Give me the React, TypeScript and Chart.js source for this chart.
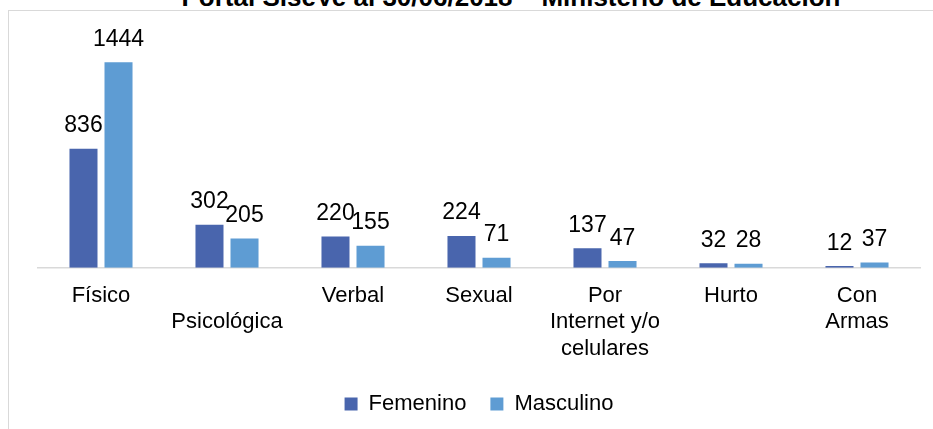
import React, { useEffect, useRef } from "react";
import { Chart, registerables } from "chart.js";

Chart.register(...registerables);

const TITLE = "Portal SíseVe al 30/06/2018 – Ministerio de Educación";
const categories: string[][] = [
  ["Físico"],
  ["", "Psicológica"],
  ["Verbal"],
  ["Sexual"],
  ["Por", "Internet y/o", "celulares"],
  ["Hurto"],
  ["Con", "Armas"],
];
const seriesNames = ["Femenino", "Masculino"];
const femenino = [836, 302, 220, 224, 137, 32, 12];
const masculino = [1444, 205, 155, 71, 47, 28, 37];
const yMax = 1600;

const FONT = '"Liberation Sans", Arial, sans-serif';

const valueLabels = {
  id: "valueLabels",
  afterDatasetsDraw(chart: any) {
    const ctx = chart.ctx;
    ctx.save();
    ctx.font = `23px ${FONT}`;
    ctx.fillStyle = "#000";
    ctx.textAlign = "center";
    ctx.textBaseline = "alphabetic";
    chart.data.datasets.forEach((ds: any, i: number) => {
      const meta = chart.getDatasetMeta(i);
      meta.data.forEach((bar: any, j: number) => {
        ctx.fillText(String(ds.data[j]), bar.x, bar.y - 16.5);
      });
    });
    ctx.restore();
  },
};

export default function App() {
  const ref = useRef<HTMLCanvasElement>(null);
  useEffect(() => {
    if (!ref.current) return;
    const chart = new Chart(ref.current, {
      type: "bar",
      data: {
        labels: categories,
        datasets: [
          {
            label: seriesNames[0],
            data: femenino,
            backgroundColor: "#4965ad",
            categoryPercentage: 0.556,
            barPercentage: 0.8,
          },
          {
            label: seriesNames[1],
            data: masculino,
            backgroundColor: "#5e9cd3",
            categoryPercentage: 0.556,
            barPercentage: 0.8,
          },
        ],
      },
      options: {
        responsive: false,
        animation: false,
        layout: { padding: { left: 29, right: 13, top: 29, bottom: 14 } },
        plugins: {
          title: { display: false },
          tooltip: { enabled: false },
          legend: {
            position: "bottom",
            labels: {
              boxWidth: 13,
              boxHeight: 13,
              padding: 24,
              color: "#000",
              font: { family: FONT, size: 22 },
            },
          },
        },
        scales: {
          x: {
            grid: { display: false, drawTicks: false },
            border: { color: "#d9d9d9", width: 1.5 },
            ticks: {
              color: "#000",
              font: { family: FONT, size: 22, lineHeight: 1.2 },
              padding: 15,
              maxRotation: 0,
              autoSkip: false,
            },
            afterFit(scale: any) {
              scale.height -= 8;
            },
          },
          y: { display: false, min: 0, max: yMax },
        },
      },
      plugins: [valueLabels],
    });
    return () => chart.destroy();
  }, []);

  return (
    <div
      style={{
        position: "absolute",
        left: 0,
        top: 0,
        width: 933,
        height: 429,
        overflow: "hidden",
        background: "#fff",
      }}
    >
      <div
        style={{
          position: "absolute",
          left: 0,
          top: -16,
          width: 1022,
          textAlign: "center",
          font: `bold 26px ${FONT}`,
          lineHeight: "26px",
          color: "#000",
          whiteSpace: "nowrap",
        }}
      >
        {TITLE}
      </div>
      <div
        style={{
          position: "absolute",
          left: 8,
          top: 10,
          width: 1000,
          height: 500,
          border: "1px solid #d9d9d9",
          boxSizing: "border-box",
        }}
      >
        <canvas ref={ref} width={924} height={428} style={{ display: "block" }} />
      </div>
    </div>
  );
}
